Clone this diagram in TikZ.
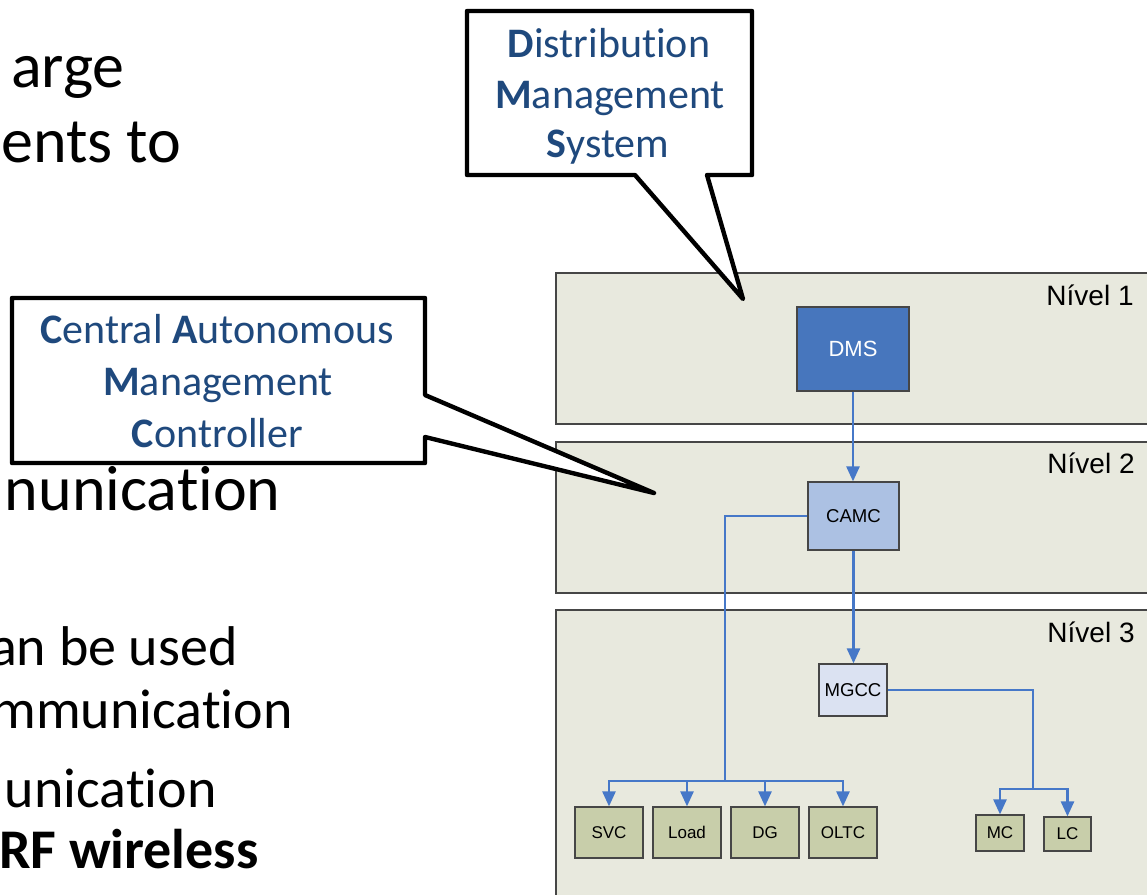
\documentclass[tikz,border=0pt]{standalone}
\usepackage{fontspec}
\setmainfont{Carlito}[Ligatures=NoCommon]
\newfontfamily\arialf{Liberation Sans}
\usetikzlibrary{arrows.meta}

\definecolor{levelfill}{RGB}{232,233,222}
\definecolor{levelborder}{RGB}{70,70,70}
\definecolor{dmsfill}{RGB}{71,118,189}
\definecolor{camcfill}{RGB}{172,193,227}
\definecolor{mgccfill}{RGB}{219,226,242}
\definecolor{devfill}{RGB}{200,206,170}
\definecolor{connblue}{RGB}{70,120,200}
\definecolor{calloutblue}{RGB}{31,73,125}

\begin{document}
\begin{tikzpicture}[x=0.5pt,y=-0.5pt,
  bullettext/.style={anchor=base east, inner sep=0pt, font=\fontsize{32}{38}\selectfont},
  subtext/.style={anchor=base east, inner sep=0pt, font=\fontsize{28}{34}\selectfont},
  levelbox/.style={draw=levelborder, line width=0.6pt, fill=levelfill},
  levellabel/.style={anchor=base east, inner sep=0pt, font=\arialf\fontsize{14}{16}\selectfont},
  unit/.style={draw=levelborder, line width=0.6pt, inner sep=0pt, text=black, font=\arialf\fontsize{8.5}{10}\selectfont},
  link/.style={draw=connblue, line width=1.25pt},
  conn/.style={link, -{Triangle[length=7.5pt,width=6.5pt]}},
  callout/.style={draw=black, line width=2.2pt, fill=white, line join=round},
  calloutline/.style={anchor=base, inner sep=0pt, text=calloutblue, font=\fontsize{21}{25}\selectfont}
]
\clip (0,0) rectangle (1147,895);
\fill[white] (0,0) rectangle (1147,895);

% slide bullet text on the left
\node[bullettext] (t1) at (125,87) {arge};
\node[bullettext] (t2) at (182,162) {ents to};
\node[bullettext] (t3) at (281,510) {nunication};
\node[subtext] (t4) at (238,665) {an be used};
\node[subtext] (t5) at (293,728) {mmunication};
\node[subtext] (t6) at (217,807) {unication};
\node[subtext, font=\fontsize{28}{34}\selectfont\bfseries] (t7) at (259,868) {RF wireless};

% the three control levels
\draw[levelbox] (556,273) rectangle (1160,424);
\draw[levelbox] (556,442) rectangle (1160,593);
\draw[levelbox] (556,610) rectangle (1160,910);
\node[levellabel] (n1) at (1134,305) {Nível 1};
\node[levellabel] (n2) at (1135,473) {Nível 2};
\node[levellabel] (n3) at (1135,642) {Nível 3};

% controllers
\node[unit, fill=dmsfill, text=white, minimum width=56pt, minimum height=42pt,
      font=\arialf\fontsize{11}{13}\selectfont] (DMS) at (853,349) {DMS};
\node[unit, fill=camcfill, minimum width=45.5pt, minimum height=34pt,
      font=\arialf\fontsize{9.3}{11}\selectfont] (CAMC) at (853.5,516) {CAMC};
\node[unit, fill=mgccfill, minimum width=34pt, minimum height=26pt,
      font=\arialf\fontsize{9.3}{11}\selectfont] (MGCC) at (853,690) {MGCC};

% field devices
\foreach \name/\txt/\cx in {SVC/SVC/609, Load/Load/687, DG/DG/765, OLTC/OLTC/843}
  \node[unit, fill=devfill, minimum width=34pt, minimum height=25.5pt] (\name) at (\cx,832.5) {\txt};
\node[unit, fill=devfill, minimum width=24pt, minimum height=18pt] (MC) at (1000,833) {MC};
\node[unit, fill=devfill, minimum width=23.5pt, minimum height=17pt] (LC) at (1067.5,834) {LC};

% branch points of the two buses
\coordinate (busL) at (725,781);
\coordinate (busR) at (1033,789);

% connectors
\draw[conn] (DMS.south) -- (DMS.south |- CAMC.north);
\draw[conn] (CAMC.south) -- (CAMC.south |- MGCC.north);
\draw[link] (CAMC.west) -| (busL);
\foreach \dev in {SVC,Load,DG,OLTC}
  \draw[conn] (busL) -| (\dev.north);
\draw[link] (MGCC.east) -| (busR);
\draw[conn] (busR) -| (MC.north);
\draw[conn] (busR) -| (LC.north);

% speech callouts
\draw[callout] (467,11) -- (752,11) -- (752,175) -- (707,175) -- (743,299)
  -- (635,175) -- (467,175) -- cycle;
\node[calloutline] (d1) at (609,57) {\textbf{D}istribution};
\node[calloutline] (d2) at (610,108) {\textbf{M}anagement};
\node[calloutline] (d3) at (608,157) {\textbf{S}ystem};

\draw[callout] (12,298) -- (425,298) -- (425,395) -- (654,493) -- (425,437)
  -- (425,463) -- (12,463) -- cycle;
\node[calloutline] (c1) at (217,343) {\textbf{C}entral \textbf{A}utonomous};
\node[calloutline] (c2) at (218,395) {\textbf{M}anagement};
\node[calloutline] (c3) at (217.5,447) {\textbf{C}ontroller};
\end{tikzpicture}
\end{document}
